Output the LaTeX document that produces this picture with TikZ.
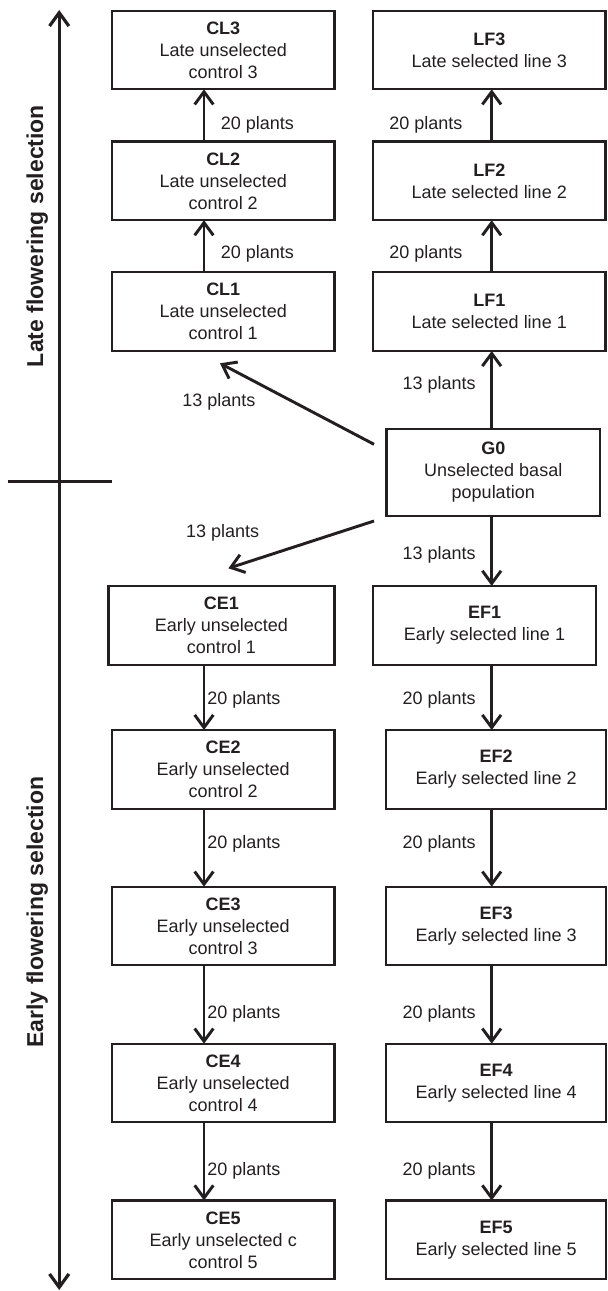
\documentclass[tikz,border=0pt]{standalone}
\usepackage{fontspec}
\setmainfont{Liberation Sans}
\usetikzlibrary{arrows.meta}
\definecolor{ink}{RGB}{35,31,32}
\begin{document}
\begin{tikzpicture}[x=0.75pt,y=-0.75pt,
  txt/.style={text=ink, font=\fontsize{13.5pt}{16.5pt}\selectfont},
  box/.style={txt, draw=ink, line width=1.6pt, inner sep=0pt, outer sep=0pt, align=center, minimum height=59pt},
  lbox/.style={box, minimum width=166.9pt},
  cebox/.style={box, minimum width=169.5pt},
  lfbox/.style={box, minimum width=174.4pt},
  gbox/.style={box, minimum width=160.1pt, minimum height=65.25pt},
  efbox/.style={box, minimum width=164.8pt},
  efonebox/.style={box, minimum width=167.25pt},
  lab/.style={txt, inner sep=0pt},
  arr/.style={draw=ink, line width=2.2pt, -{Straight Barb[length=9.5pt,width=14pt]}},
  axisarr/.style={draw=ink, line width=2.4pt, {Straight Barb[length=10pt,width=14.5pt]}-{Straight Barb[length=10pt,width=14.5pt]}},
  axisline/.style={draw=ink, line width=2.4pt},
  ttl/.style={text=ink, font=\fontsize{17.25pt}{20pt}\selectfont\bfseries, inner sep=0pt}
]
\useasboundingbox (0,0) rectangle (607,1291);

% late column boxes
\node[lbox] (CL3) at (223.25,50) {\textbf{CL3}\\Late unselected\\control 3};
\node[lbox] (CL2) at (223.25,180.85) {\textbf{CL2}\\Late unselected\\control 2};
\node[lbox] (CL1) at (223.25,311.65) {\textbf{CL1}\\Late unselected\\control 1};
\node[lfbox] (LF3) at (489.25,50) {\textbf{LF3}\\Late selected line 3};
\node[lfbox] (LF2) at (489.25,180.85) {\textbf{LF2}\\Late selected line 2};
\node[lfbox] (LF1) at (489.25,311.65) {\textbf{LF1}\\Late selected line 1};

% basal population
\node[gbox] (G0) at (493.25,472.5) {\textbf{G0}\\Unselected basal\\population};

% early column boxes
\node[cebox] (CE1) at (221.5,625.75) {\textbf{CE1}\\Early unselected\\control 1};
\node[lbox] (CE2) at (223.25,769.35) {\textbf{CE2}\\Early unselected\\control 2};
\node[lbox] (CE3) at (223.25,926) {\textbf{CE3}\\Early unselected\\control 3};
\node[lbox] (CE4) at (223.25,1083) {\textbf{CE4}\\Early unselected\\control 4};
\node[lbox] (CE5) at (223.25,1239.8) {\textbf{CE5}\\Early unselected c\\control 5};
\node[efonebox] (EF1) at (484.5,625.25) {\textbf{EF1}\\Early selected line 1};
\node[efbox] (EF2) at (496.15,769.35) {\textbf{EF2}\\Early selected line 2};
\node[efbox] (EF3) at (496.15,926) {\textbf{EF3}\\Early selected line 3};
\node[efbox] (EF4) at (496.15,1083) {\textbf{EF4}\\Early selected line 4};
\node[efbox] (EF5) at (496.15,1239.8) {\textbf{EF5}\\Early selected line 5};

% arrow columns
\coordinate (lx) at (204,0);
\coordinate (rx) at (491.7,0);

\draw[arr] (CL1.north -| lx) -- (CL2.south -| lx);
\draw[arr] (CL2.north -| lx) -- (CL3.south -| lx);
\draw[arr] (LF1.north -| rx) -- (LF2.south -| rx);
\draw[arr] (LF2.north -| rx) -- (LF3.south -| rx);
\draw[arr] (G0.north -| rx) -- (LF1.south -| rx);
\draw[arr] (G0.south -| rx) -- (EF1.north -| rx);

\draw[arr] (CE1.south -| lx) -- (CE2.north -| lx);
\draw[arr] (CE2.south -| lx) -- (CE3.north -| lx);
\draw[arr] (CE3.south -| lx) -- (CE4.north -| lx);
\draw[arr] (CE4.south -| lx) -- (CE5.north -| lx);
\draw[arr] (EF1.south -| rx) -- (EF2.north -| rx);
\draw[arr] (EF2.south -| rx) -- (EF3.north -| rx);
\draw[arr] (EF3.south -| rx) -- (EF4.north -| rx);
\draw[arr] (EF4.south -| rx) -- (EF5.north -| rx);

% diagonal arrows from G0
\coordinate (ulS) at (374,444.3);
\coordinate (ulE) at (220,363.3);
\coordinate (llS) at (374,521);
\coordinate (llE) at (228.4,568.3);
\draw[arr] (ulS) -- (ulE);
\draw[arr] (llS) -- (llE);

% labels
\node[lab, anchor=west] (t1) at (220.7,125) {20 plants};
\node[lab, anchor=west] (t2) at (220.7,254) {20 plants};
\node[lab, anchor=east] (t3) at (462.6,125) {20 plants};
\node[lab, anchor=east] (t4) at (462.6,254) {20 plants};
\node[lab, anchor=west] (t5) at (182,402) {13 plants};
\node[lab, anchor=east] (t6) at (476,385) {13 plants};
\node[lab, anchor=west] (t7) at (185.8,533) {13 plants};
\node[lab, anchor=east] (t8) at (476,555) {13 plants};
\node[lab, anchor=west] (t9) at (207,700) {20 plants};
\node[lab, anchor=west] (t10) at (207,844) {20 plants};
\node[lab, anchor=west] (t11) at (207,1013.5) {20 plants};
\node[lab, anchor=west] (t12) at (207,1171) {20 plants};
\node[lab, anchor=east] (t13) at (476,700) {20 plants};
\node[lab, anchor=east] (t14) at (476,844) {20 plants};
\node[lab, anchor=east] (t15) at (476,1013.5) {20 plants};
\node[lab, anchor=east] (t16) at (476,1171) {20 plants};

% axis
\coordinate (axT) at (59.2,10);
\coordinate (axB) at (59.2,1290);
\draw[axisarr] (axB) -- (axT);
\coordinate (tkL) at (7.7,481.7);
\coordinate (tkR) at (112,481.7);
\draw[axisline] (tkL) -- (tkR);

\node[ttl, rotate=90, anchor=base] (late) at (43,236) {Late flowering selection};
\node[ttl, rotate=90, anchor=base] (early) at (43,912) {Early flowering selection};
\end{tikzpicture}
\end{document}
